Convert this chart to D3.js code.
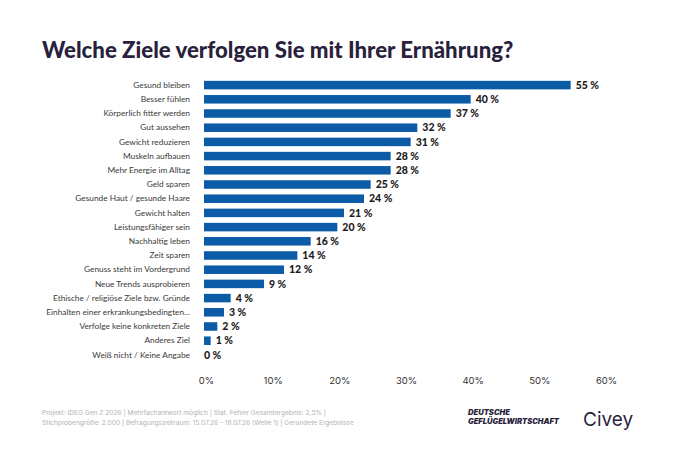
<!DOCTYPE html>
<html>
<head>
<meta charset="utf-8">
<script src="https://cdn.jsdelivr.net/npm/d3@7"></script>
<style>
  body { margin: 0; background: #fff; }
  svg { display: block; }
</style>
</head>
<body>
<svg width="676" height="450"></svg>
<script>
// chart data
const categories = [
  "Gesund bleiben", "Besser fühlen", "Körperlich fitter werden", "Gut aussehen",
  "Gewicht reduzieren", "Muskeln aufbauen", "Mehr Energie im Alltag", "Geld sparen",
  "Gesunde Haut / gesunde Haare", "Gewicht halten", "Leistungsfähiger sein",
  "Nachhaltig leben", "Zeit sparen", "Genuss steht im Vordergrund",
  "Neue Trends ausprobieren", "Ethische / religiöse Ziele bzw. Gründe",
  "Einhalten einer erkrankungsbedingten...", "Verfolge keine konkreten Ziele",
  "Anderes Ziel", "Weiß nicht / Keine Angabe"
]
const values = [55, 40, 37, 32, 31, 28, 28, 25, 24, 21, 20, 16, 14, 12, 9, 4, 3, 2, 1, 0]
const tickValues = [0, 10, 20, 30, 40, 50, 60]

const title = "Welche Ziele verfolgen Sie mit Ihrer Ernährung?"
const footerLines = [
  "Projekt: IDEG Gen Z 2026 | Mehrfachantwort möglich | Stat. Fehler Gesamtergebnis: 2,5% |",
  "Stichprobengröße: 2.000 | Befragungszeitraum: 15.07.26 - 18.07.26 (Welle 1) | Gerundete Ergebnisse"
]

const font = "Lato, 'Noto Sans', sans-serif"
const font2 = "Inter, 'Noto Sans', sans-serif"
const svg = d3.select("svg")

// title
svg.append("text")
  .attr("x", 42).attr("y", 58)
  .attr("font-family", font)
  .attr("font-weight", 900)
  .attr("font-size", 22.2)
  .attr("fill", "#2a1f3d")
  .text(title)

// scales
const x = d3.scaleLinear().domain([0, 60]).range([204, 604])
const y = d3.scaleBand().domain(categories).range([78, 362]).paddingInner(0.4).paddingOuter(0.2)

// bars
svg.selectAll("rect.bar")
  .data(values)
  .join("rect")
  .attr("class", "bar")
  .attr("x", x(0))
  .attr("y", (d, i) => y(categories[i]))
  .attr("width", d => x(d) - x(0))
  .attr("height", y.bandwidth())
  .attr("fill", "#0b5ba7")

// value labels
svg.selectAll("text.val")
  .data(values)
  .join("text")
  .attr("class", "val")
  .attr("x", d => x(d) + (d > 0 ? 5 : 0))
  .attr("y", (d, i) => y(categories[i]) + y.bandwidth() / 2)
  .attr("dy", "0.36em")
  .attr("font-family", font)
  .attr("font-weight", 900)
  .attr("font-size", 10.5)
  .attr("fill", "#1d1b22")
  .text(d => d + " %")

// category labels
const yAxis = svg.append("g")
  .attr("transform", "translate(" + (x(0) - 14) + ",0)")
  .call(d3.axisLeft(y).tickSize(0).tickPadding(0))
yAxis.select(".domain").remove()
yAxis.selectAll("text")
  .attr("font-family", font)
  .attr("font-size", 8.3)
  .attr("fill", "#3a3a3a")

// x axis labels
const xAxis = svg.append("g")
  .attr("transform", "translate(0,377)")
  .call(d3.axisBottom(x).tickValues(tickValues).tickFormat(d => d + "%").tickSize(0).tickPadding(0))
xAxis.select(".domain").remove()
xAxis.selectAll("text")
  .attr("dx", 2)
  .attr("font-family", font2)
  .attr("font-size", 9.5)
  .attr("fill", "#333")

// footer
svg.selectAll("text.foot")
  .data(footerLines)
  .join("text")
  .attr("class", "foot")
  .attr("x", 42)
  .attr("y", (d, i) => 415 + i * 10)
  .attr("font-family", font2)
  .attr("font-size", 6.6)
  .attr("fill", "#b3b3b3")
  .text(d => d)

// logos
const logo = svg.append("g").attr("font-family", font2).attr("fill", "#2a1f3d")
logo.append("text")
  .attr("x", 468).attr("y", 415)
  .attr("font-size", 7.4).attr("font-weight", 900).attr("font-style", "italic")
  .attr("textLength", 42).attr("lengthAdjust", "spacingAndGlyphs")
  .text("DEUTSCHE")
logo.append("text")
  .attr("x", 468).attr("y", 424)
  .attr("font-size", 7.4).attr("font-weight", 900).attr("font-style", "italic")
  .attr("textLength", 91).attr("lengthAdjust", "spacingAndGlyphs")
  .text("GEFLÜGELWIRTSCHAFT")
logo.append("text")
  .attr("x", 583).attr("y", 426)
  .attr("font-size", 19)
  .attr("font-weight", 400)
  .text("Civey")
</script>
</body>
</html>
